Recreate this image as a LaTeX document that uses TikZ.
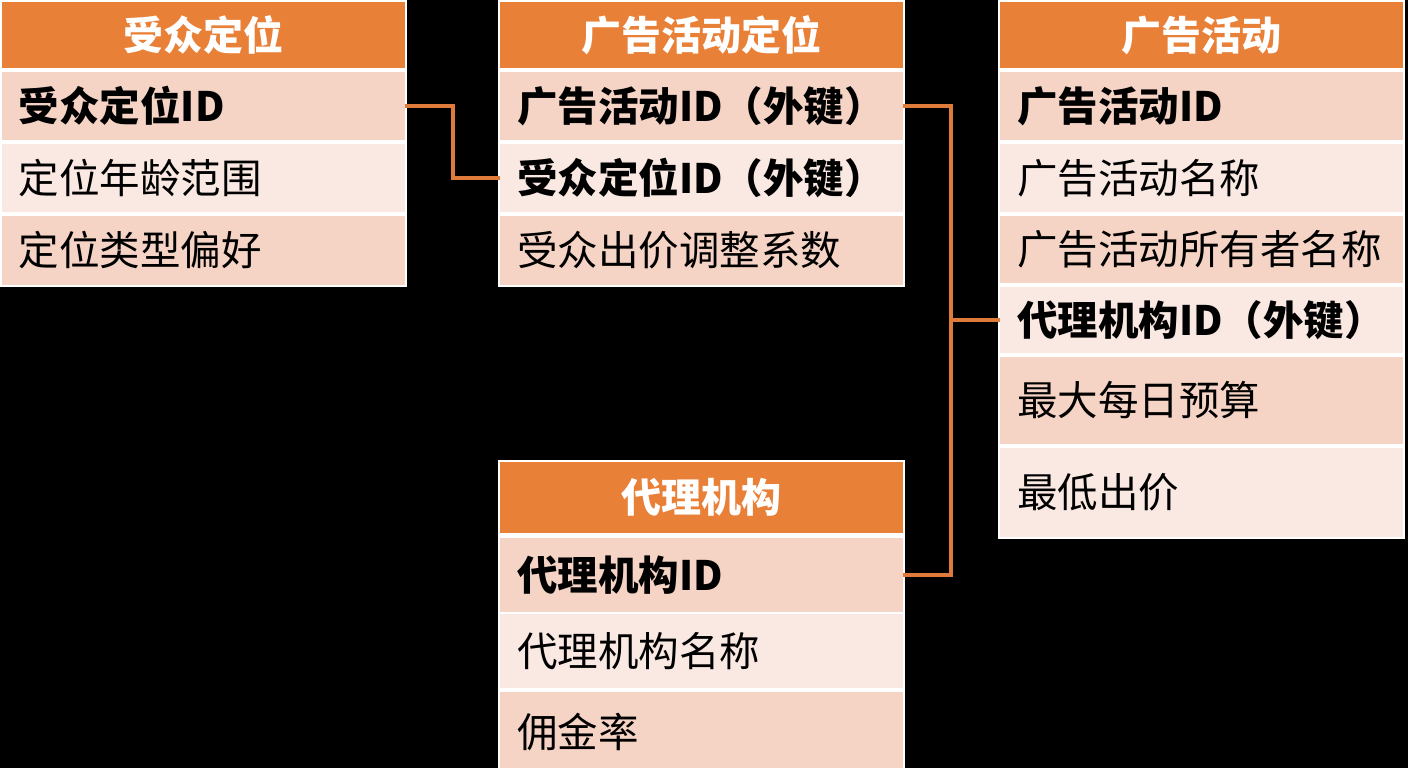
\documentclass[tikz,border=0pt]{standalone}
\usepackage{fontspec}
\setmainfont{Noto Sans CJK SC}
\usetikzlibrary{positioning}
\definecolor{headorange}{RGB}{233,128,56}
\definecolor{rowdark}{RGB}{245,211,197}
\definecolor{rowlight}{RGB}{250,233,227}
\definecolor{linkorange}{RGB}{222,122,58}

\begin{document}
\begin{tikzpicture}[x=1pt,y=-1pt,
  head/.style={fill=headorange,text=white,font=\bfseries\fontsize{40}{48}\selectfont,
    minimum width=403pt,inner sep=0pt},
  cell/.style={text width=369pt,align=left,inner xsep=17pt,inner ysep=0pt,
    font=\fontsize{40.5}{48}\selectfont},
  key/.style={cell,font=\bfseries\fontsize{40.5}{48}\selectfont},
  dark/.style={fill=rowdark},
  light/.style={fill=rowlight},
  link/.style={draw=linkorange,line width=4pt}]
\useasboundingbox[fill=black] (0,0) rectangle (1408,768);
% white frames behind the tables
\fill[white] (0,0) rectangle (407,287);
\fill[white] (498,0) rectangle (905,287);
\fill[white] (998,0) rectangle (1405,539);
\fill[white] (498,460) rectangle (905,780);
% audience targeting
\node[head,minimum height=66pt] (aud) at (203.5,35) {受众定位};
\node[key,dark,minimum height=68pt] (aud1) at (203.5,106) {受众定位ID};
\node[cell,light,minimum height=68pt] (aud2) at (203.5,178) {定位年龄范围};
\node[cell,dark,minimum height=69pt] (aud3) at (203.5,250.5) {定位类型偏好};
% campaign targeting
\node[head,minimum height=66pt] (ctg) at (701.5,35) {广告活动定位};
\node[key,dark,minimum height=68pt] (ctg1) at (701.5,106) {广告活动ID（外键）};
\node[key,light,minimum height=68pt] (ctg2) at (701.5,178) {受众定位ID（外键）};
\node[cell,dark,minimum height=69pt] (ctg3) at (701.5,250.5) {受众出价调整系数};
% campaign
\node[head,minimum height=66pt] (cmp) at (1201.5,35) {广告活动};
\node[key,dark,minimum height=68pt] (cmp1) at (1201.5,106) {广告活动ID};
\node[cell,light,minimum height=68pt] (cmp2) at (1201.5,178) {广告活动名称};
\node[cell,dark,minimum height=67pt] (cmp3) at (1201.5,249.5) {广告活动所有者名称};
\node[key,light,minimum height=66pt] (cmp4) at (1201.5,320) {代理机构ID（外键）};
\node[cell,dark,minimum height=87pt] (cmp5) at (1201.5,400.5) {最大每日预算};
\node[cell,light,minimum height=89pt] (cmp6) at (1201.5,492.5) {最低出价};
% agency
\node[head,minimum height=71pt] (agy) at (701.5,497.5) {代理机构};
\node[key,dark,minimum height=74pt] (agy1) at (701.5,575) {代理机构ID};
\node[cell,light,minimum height=74pt] (agy2) at (701.5,651) {代理机构名称};
\node[cell,dark,minimum height=80pt] (agy3) at (701.5,732) {佣金率};
% links
\draw[link] (aud1.east) -- ++(48,0) |- (ctg2.west);
\draw[link] (ctg1.east) -- ++(48,0) coordinate (bus) |- (agy1.east);
\draw[link] (cmp4.west) -- (cmp4.west -| bus);
\end{tikzpicture}
\end{document}
